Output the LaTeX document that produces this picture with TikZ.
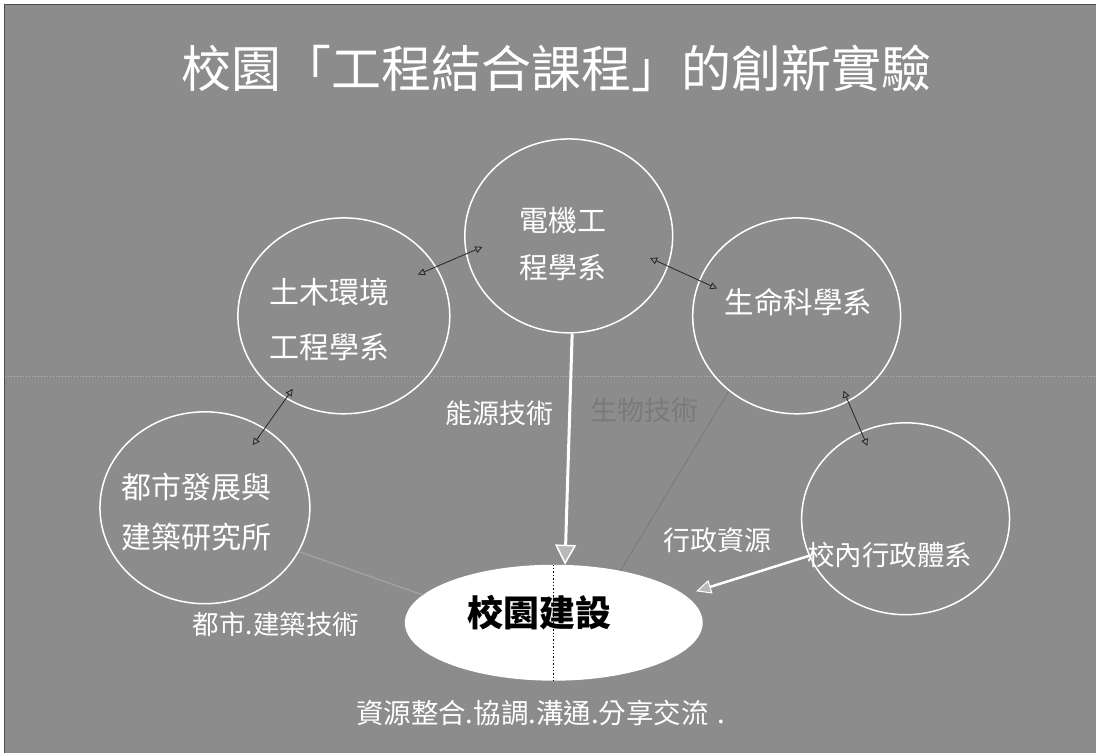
\documentclass[tikz,border=0pt]{standalone}
\usepackage{fontspec}
\setmainfont{Noto Sans CJK TC}
\usetikzlibrary{arrows.meta,shapes.geometric}
\definecolor{bg}{HTML}{8C8C8C}
\definecolor{faintdark}{HTML}{7A7A7A}
\definecolor{faintlight}{HTML}{A0A0A0}
\definecolor{headgray}{HTML}{B8B8B8}
\begin{document}
\begin{tikzpicture}[x=1pt,y=-1pt,
  dept/.style={ellipse, draw=white, line width=1.5pt, inner sep=0pt},
  dtext/.style={text=white, align=center, inner sep=0pt},
  lbl/.style={text=white, inner sep=0pt, font=\fontsize{27pt}{27pt}\selectfont},
  biarrow/.style={draw=black!85, line width=0.8pt,
    arrows={Triangle[open,length=7pt,width=7pt]-Triangle[open,length=7pt,width=7pt]}},
  bigarrow/.style={draw=white, line width=3pt,
    arrows={-Triangle[length=20pt,width=21pt,fill=headgray,line width=1.5pt]}},
  sidearrow/.style={draw=white, line width=2.5pt,
    arrows={-Triangle[length=15pt,width=14pt,fill=headgray,line width=1pt]}}
]
% background
\fill[white] (0,0) rectangle (1096,753);
\fill[bg] (5,5) rectangle (1096,753);
\draw[black!70, line width=1pt] (5,753) -- (5,5) -- (1096,5);
\useasboundingbox (0,0) rectangle (1096,753);
% faint guide line
\draw[white, opacity=0.35, dotted, line width=1pt] (5,377) -- (1096,377);

% title
\node[text=white, inner sep=0pt, font=\fontsize{50pt}{50pt}\selectfont] (title) at (557,68) {校園「工程結合課程」的創新實驗};

% department circles
\node[dept, minimum width=208pt, minimum height=194pt] (dianji) at (569,236) {};
\node[dept, minimum width=212pt, minimum height=196pt] (tumu) at (344,316) {};
\node[dept, minimum width=208pt, minimum height=196pt] (sheng) at (797,316) {};
\node[dept, minimum width=210pt, minimum height=192pt] (dushi) at (205,508) {};
\node[dept, minimum width=208pt, minimum height=192pt] (xiaonei) at (906,519) {};

% campus ellipse
\node[ellipse, fill=white, minimum width=298pt, minimum height=116pt, inner sep=0pt] (campus) at (554,623) {};
\draw[black, dotted, line width=1.4pt] (campus.north) -- (campus.south);

% circle texts
\node[dtext, font=\fontsize{29pt}{47pt}\selectfont] (tdianji) at (563,244) {電機工\\程學系};
\node[dtext, font=\fontsize{30pt}{55pt}\selectfont] (ttumu) at (330,320) {土木環境\\工程學系};
\node[dtext, font=\fontsize{29.5pt}{30pt}\selectfont] (tsheng) at (799,302) {生命科學系};
\node[dtext, font=\fontsize{30pt}{50pt}\selectfont] (tdushi) at (197,512) {都市發展與\\建築研究所};
\node[dtext, font=\fontsize{27.5pt}{28pt}\selectfont] (txiaonei) at (890,555) {校內行政體系};
\node[inner sep=0pt, text=black, font=\fontsize{36pt}{36pt}\selectfont\bfseries] (tcampus) at (540,613) {校園建設};

% double arrows between departments
\draw[biarrow, shorten <=-20pt, shorten >=-18pt] (tumu.28) -- (dianji.190);
\draw[biarrow, shorten <=-20pt, shorten >=-20pt] (dianji.-17) -- (sheng.160);
\draw[biarrow, shorten <=-12pt, shorten >=-21pt] (tumu.-125) -- (dushi.53);
\draw[biarrow, shorten <=-12pt, shorten >=-16pt] (sheng.-59) -- (xiaonei.117);

% faint connectors
\draw[faintdark, line width=0.8pt] (sheng.228) -- (campus.38);
\draw[faintlight, line width=1.5pt] (dushi.-25) -- (campus.168);

% white arrows to campus
\draw[bigarrow] (dianji.-88) -- (campus.79);
\draw[sidearrow, shorten >=12pt] (xiaonei.201) -- (campus.12);

% labels
\node[lbl] (lneng) at (500,413) {能源技術};
\node[lbl, text=faintdark] (lshengwu) at (645,410) {生物技術};
\node[lbl] (lxingzheng) at (718,540) {行政資源};
\node[lbl, font=\fontsize{26.5pt}{27pt}\selectfont] (ldushi) at (276,625) {都市.建築技術};
\node[lbl, anchor=west, font=\fontsize{27.5pt}{28pt}\selectfont] (lbottom) at (356,713) {資源整合.協調.溝通.分享交流\hspace{9pt}.};
\end{tikzpicture}
\end{document}
